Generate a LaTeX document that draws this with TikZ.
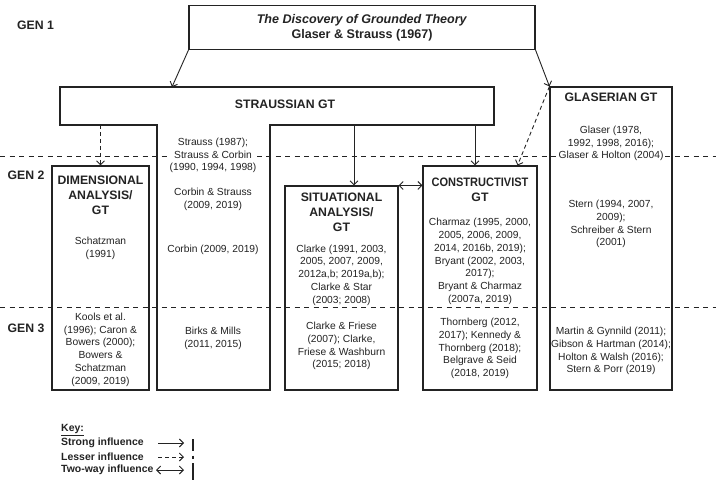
\documentclass[tikz,border=0pt]{standalone}
\usepackage{fontspec}
\setmainfont{Liberation Sans}
\usepackage{graphicx}
\usetikzlibrary{arrows.meta}
\definecolor{ink}{RGB}{35,35,35}
\begin{document}
\begin{tikzpicture}[x=1bp,y=-1bp,
  line/.style={draw=ink,line width=1.1bp},
  box/.style={line,rectangle,inner sep=0pt},
  genline/.style={draw=ink,line width=0.9bp,dash pattern=on 5bp off 4.5bp},
  barb/.tip={Straight Barb[length=4bp,width=8bp]},
  strong/.style={draw=ink,line width=0.9bp,-barb},
  lesser/.style={strong,dash pattern=on 4bp off 3bp},
  twoway/.style={draw=ink,line width=0.9bp,barb-barb},
  cite/.style={font=\fontsize{10.3}{12.8}\selectfont,align=center,fill=white,inner sep=0.6bp,text=ink},
  head/.style={font=\fontsize{12.3}{15}\selectfont\bfseries,align=center,inner sep=0pt,text=ink},
  gen/.style={font=\fontsize{12.3}{15}\selectfont\bfseries,inner sep=0pt,text=ink},
  keytxt/.style={font=\fontsize{10.5}{12}\selectfont\bfseries,anchor=west,inner sep=0pt,text=ink},
]
\useasboundingbox (0,0) rectangle (716,481);

% generation separators
\coordinate (g2l) at (0,156);  \coordinate (g2r) at (716,156);
\coordinate (g3l) at (0,307);  \coordinate (g3r) at (716,307);
\draw[genline] (g2l) -- (g2r);
\draw[genline] (g3l) -- (g3r);

% generation labels
\node[gen] (gen1) at (35.5,25) {GEN 1};
\node[gen] (gen2) at (26,175) {GEN 2};
\node[gen] (gen3) at (26,328) {GEN 3};

% founding text
\node[box,minimum width=346bp,minimum height=44bp,align=center,
      font=\fontsize{12.6}{15}\selectfont\bfseries,text=ink] (disc) at (362,27.5)
  {\textit{The Discovery of Grounded Theory}\\Glaser \& Strauss (1967)};

% Straussian GT: bar with its own column
\draw[line] (60,87) -- (494,87) -- (494,125) -- (270,125) -- (270,390)
  -- (157,390) -- (157,125) -- (60,125) -- cycle;
\node[head] (strh) at (285,104) {STRAUSSIAN GT};
\node[cite] (str1) at (213,155.5) {Strauss (1987);\\Strauss \& Corbin\\(1990, 1994, 1998)};
\node[cite] (str2) at (213,199.5) {Corbin \& Strauss\\(2009, 2019)};
\node[cite] (str3) at (213,250) {Corbin (2009, 2019)};
\node[cite] (str4) at (213,338.5) {Birks \& Mills\\(2011, 2015)};

% Dimensional analysis
\node[head] (dimh) at (100.5,195) {DIMENSIONAL\\ANALYSIS/\\GT};
\node[cite] (dim1) at (100.5,248) {Schatzman\\(1991)};
\node[cite] (dim2) at (100.5,349.5) {Kools et al.\\(1996); Caron \&\\Bowers (2000);\\Bowers \&\\Schatzman\\(2009, 2019)};

% Situational analysis
\node[head] (sith) at (341.5,212) {SITUATIONAL\\ANALYSIS/\\GT};
\node[cite] (sit1) at (341.5,275) {Clarke (1991, 2003,\\2005, 2007, 2009,\\2012a,b; 2019a,b);\\Clarke \& Star\\(2003; 2008)};
\node[cite] (sit2) at (341.5,346) {Clarke \& Friese\\(2007); Clarke,\\Friese \& Washburn\\(2015; 2018)};

% Constructivist GT
\node[head] (conh) at (480,189.5) {\scalebox{0.9}[1]{CONSTRUCTIVIST}\\GT};
\node[cite] (con1) at (480,261.5) {Charmaz (1995, 2000,\\2005, 2006, 2009,\\2014, 2016b, 2019);\\Bryant (2002, 2003,\\2017);\\Bryant \& Charmaz\\(2007a, 2019)};
\node[cite] (con2) at (480,348.5) {Thornberg (2012,\\2017); Kennedy \&\\Thornberg (2018);\\Belgrave \& Seid\\(2018, 2019)};

% Glaserian GT
\node[head] (glah) at (611,97) {GLASERIAN GT};
\node[cite] (gla1) at (611,143.5) {Glaser (1978,\\1992, 1998, 2016);\\Glaser \& Holton (2004)};
\node[cite] (gla2) at (611,224) {Stern (1994, 2007,\\2009);\\Schreiber \& Stern\\(2001)};
\node[cite,inner sep=0pt,fill=none] (gla3) at (611,351) {Martin \& Gynnild (2011);\\Gibson \& Hartman (2014);\\Holton \& Walsh (2016);\\Stern \& Porr (2019)};

% outlines of the school boxes
\node[box,minimum width=97bp,minimum height=224bp]  (dim)  at (100.5,278) {};
\node[box,minimum width=113bp,minimum height=204bp] (sit)  at (341.5,288) {};
\node[box,minimum width=114bp,minimum height=224bp] (cons) at (480,278) {};
\node[box,minimum width=122bp,minimum height=303bp] (glas) at (611,238.5) {};

% lines of influence
\coordinate (sIn)  at (172,87);
\coordinate (sDim) at (100.5,125);
\coordinate (sSit) at (354,125);
\coordinate (sCon) at (475,125);
\draw[strong] (disc.south west) -- (sIn);
\draw[strong] (disc.south east) -- (glas.north west);
\draw[lesser] (glas.north west) -- ([xshift=-20bp]cons.north east);
\draw[lesser] (sDim) -- (dim.north);
\draw[strong] (sSit) -- (sSit |- sit.north);
\draw[strong] (sCon) -- (sCon |- cons.north);
\draw[twoway] (sit.north east) -- (sit.north east -| cons.west);

% key
\node[keytxt] (key)  at (61,430) {\underline{Key:}};
\node[keytxt] (ks)   at (61,443) {Strong influence};
\node[keytxt] (kl)   at (61,457) {Lesser influence};
\node[keytxt] (kt)   at (61,470) {Two-way influence};
\coordinate (ks1) at (158,443); \coordinate (ks2) at (184,443);
\coordinate (kl1) at (158,457); \coordinate (kl2) at (184,457);
\coordinate (kt1) at (156,470); \coordinate (kt2) at (184,470);
\draw[strong] (ks1) -- (ks2);
\draw[lesser] (kl1) -- (kl2);
\draw[twoway] (kt1) -- (kt2);
\draw[line] (193,439) -- (193,451);
\draw[line] (193,455.5) -- (193,458.5);
\draw[line] (193,463) -- (193,480);
\end{tikzpicture}
\end{document}
